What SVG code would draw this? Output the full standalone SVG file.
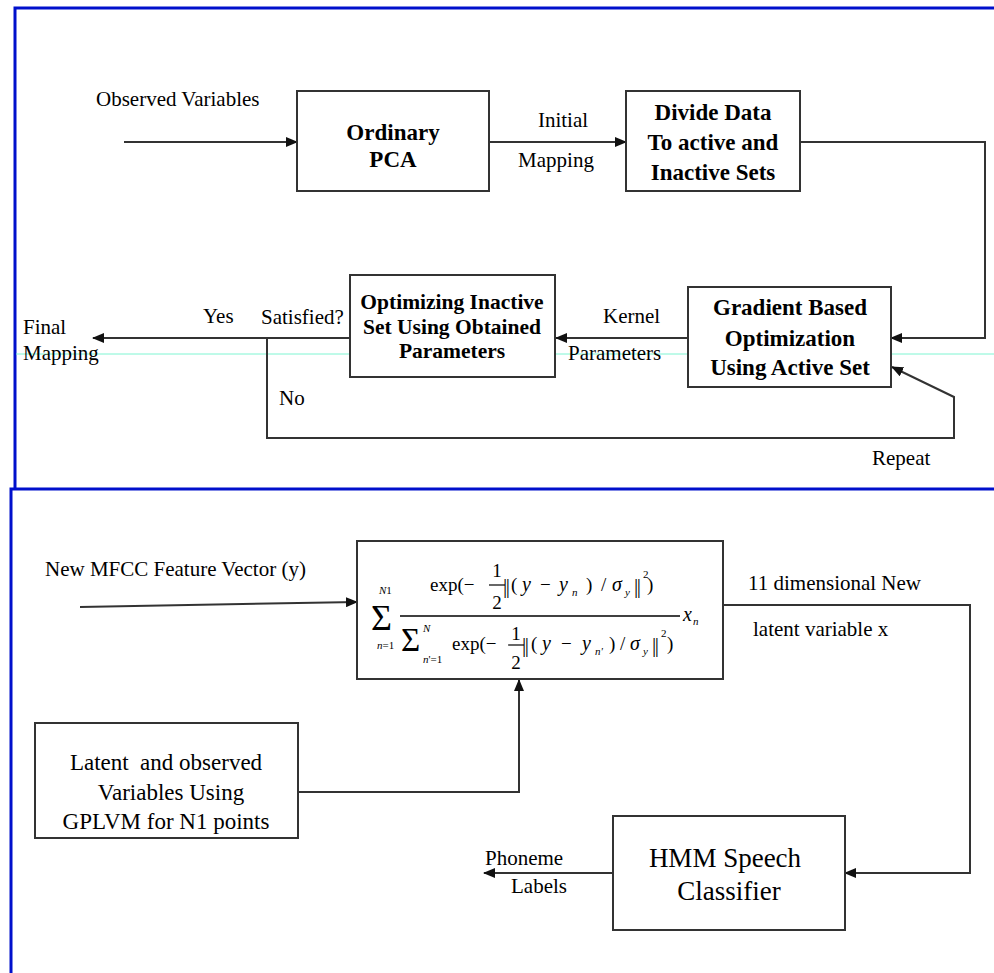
<svg xmlns="http://www.w3.org/2000/svg" width="994" height="973" viewBox="0 0 994 973" font-family="'Liberation Serif', 'Times New Roman', serif">
<style>
text{font-family:"Liberation Serif","Times New Roman",serif;fill:#000}
.lb{font-size:21px}
.bd{font-size:23px;font-weight:bold}
.bs{font-size:21.5px;font-weight:bold}
.hm{font-size:27px}
.lt{font-size:23px}
.f{font-size:19px}
.fi{font-size:20px;font-style:italic}
.fs{font-size:11px;font-style:italic}
.nb{font-size:21px;letter-spacing:-1.5px}
.box{fill:#fff;stroke:#333;stroke-width:2}
.ar{fill:none;stroke:#333;stroke-width:2;marker-end:url(#ah)}
.fr{fill:none;stroke:#0010cc;stroke-width:3}
.c{text-anchor:middle}
</style>
<defs>
<marker id="ah" markerUnits="userSpaceOnUse" markerWidth="12" markerHeight="10" refX="11" refY="5" orient="auto">
<path d="M0,0 L12,5 L0,10 z" fill="#111"/>
</marker>
</defs>
<rect width="994" height="973" fill="#fff"/>
<g id="frames">
<polyline class="fr" points="15,489 15,8 994,8"/>
<polyline class="fr" points="11,973 11,489 994,489"/>
<line x1="16" y1="354" x2="994" y2="354" stroke="#7ff5d2" stroke-width="1"/>
</g>
<g id="connectors">
<line class="ar" x1="124" y1="142" x2="297" y2="142"/>
<line class="ar" x1="489" y1="142" x2="626" y2="142"/>
<polyline class="ar" points="800,142 985,142 985,338 891,338"/>
<line class="ar" x1="688" y1="338" x2="556" y2="338"/>
<line class="ar" x1="349" y1="338" x2="93" y2="338"/>
<polyline class="ar" points="267,338 267,438 954,438 954,397 892,367"/>
<line class="ar" x1="80" y1="607" x2="357" y2="602"/>
<polyline class="ar" points="723,605 970,605 970,873 845,873"/>
<line class="ar" x1="613" y1="873" x2="484" y2="873"/>
<polyline class="ar" points="298,792 519,792 519,680"/>
</g>
<g id="labels">
<text class="lb" x="96" y="106">Observed Variables</text>
<text class="lb c" x="563" y="127">Initial</text>
<text class="lb c" x="556" y="167">Mapping</text>
<text class="lb" x="603" y="323">Kernel</text>
<text class="lb" x="568" y="360">Parameters</text>
<text class="lb" x="203" y="323">Yes</text>
<text class="lb" x="261" y="324">Satisfied?</text>
<text class="lb" x="23" y="334">Final</text>
<text class="lb" x="23" y="360">Mapping</text>
<text class="lb" x="279" y="405">No</text>
<text class="lb" x="872" y="465">Repeat</text>
<text class="lb" x="45" y="576">New MFCC Feature Vector (y)</text>
<text class="lb" x="748" y="590">11 dimensional New</text>
<text class="lb" x="753" y="636">latent variable x</text>
<text class="lb" x="485" y="865">Phoneme</text>
<text class="lb" x="511" y="893">Labels</text>
</g>
<g id="pca">
<rect class="box" x="297" y="91" width="192" height="100"/>
<text class="bd c" x="393" y="140">Ordinary</text>
<text class="bd c" x="393" y="167">PCA</text>
</g>
<g id="divide">
<rect class="box" x="626" y="91" width="174" height="100"/>
<text class="bd c" x="713" y="120">Divide Data</text>
<text class="bd c" x="713" y="150">To active and</text>
<text class="bd c" x="713" y="180">Inactive Sets</text>
</g>
<g id="gradient">
<rect class="box" x="688" y="287" width="203" height="100"/>
<text class="bd c" x="790" y="315">Gradient Based</text>
<text class="bd c" x="790" y="346">Optimization</text>
<text class="bd c" x="790" y="375">Using Active Set</text>
</g>
<g id="optimizing">
<rect class="box" x="350" y="275" width="205" height="102"/>
<text class="bs c" x="452" y="309">Optimizing Inactive</text>
<text class="bs c" x="452" y="334">Set Using Obtained</text>
<text class="bs c" x="452" y="358">Parameters</text>
</g>
<g id="formula">
<rect class="box" x="357" y="541" width="366" height="138"/>
<text x="371" y="630" style="font-size:36px">Σ</text>
<text class="fs" x="379" y="594">N<tspan style="font-style:normal">1</tspan></text>
<text class="fs" x="377" y="649">n<tspan style="font-style:normal">=1</tspan></text>
<line x1="400" y1="616" x2="680" y2="616" stroke="#000" stroke-width="1.3"/>
<text class="fi" x="683" y="621">x</text>
<text class="fs" x="693" y="625">n</text>
<text class="f" x="430" y="591">exp(−</text>
<text class="f c" x="497" y="577">1</text>
<line x1="489" y1="585" x2="505" y2="585" stroke="#000" stroke-width="1.2"/>
<text class="f c" x="497" y="609">2</text>
<text class="nb" x="503" y="593">||</text>
<text class="f" x="511" y="591">(</text>
<text class="fi" x="522" y="591">y</text>
<text class="f" x="540" y="591">−</text>
<text class="fi" x="559" y="591">y</text>
<text class="fs" x="572" y="596">n</text>
<text class="f" x="586" y="591">)</text>
<text class="f" x="601" y="591">/</text>
<text class="fi" x="612" y="591">σ</text>
<text class="fs" x="625" y="596">y</text>
<text class="nb" x="634" y="593">||</text>
<text class="f" x="643" y="578" style="font-size:11px">2</text>
<text class="f" x="647" y="591">)</text>
<text x="401" y="651" style="font-size:33px">Σ</text>
<text class="fs" x="423" y="632">N</text>
<text class="fs" x="423" y="663">n<tspan style="font-style:normal">'=1</tspan></text>
<text class="f" x="452" y="650">exp(−</text>
<text class="f c" x="516" y="640">1</text>
<line x1="508" y1="645" x2="524" y2="645" stroke="#000" stroke-width="1.2"/>
<text class="f c" x="516" y="669">2</text>
<text class="nb" x="522" y="652">||</text>
<text class="f" x="531" y="650">(</text>
<text class="fi" x="542" y="650">y</text>
<text class="f" x="561" y="650">−</text>
<text class="fi" x="582" y="650">y</text>
<text class="fs" x="595" y="655">n'</text>
<text class="f" x="609" y="650">)</text>
<text class="f" x="620" y="650">/</text>
<text class="fi" x="630" y="650">σ</text>
<text class="fs" x="643" y="655">y</text>
<text class="nb" x="652" y="652">||</text>
<text class="f" x="661" y="637" style="font-size:11px">2</text>
<text class="f" x="667" y="650">)</text>
</g>
<g id="latent">
<rect class="box" x="35" y="723" width="263" height="115"/>
<text class="lt c" x="166" y="770" style="white-space:pre">Latent  and observed</text>
<text class="lt c" x="171" y="800">Variables Using</text>
<text class="lt c" x="166" y="829">GPLVM for N1 points</text>
</g>
<g id="hmm">
<rect class="box" x="613" y="816" width="232" height="114"/>
<text class="hm c" x="725" y="867">HMM Speech</text>
<text class="hm c" x="729" y="900">Classifier</text>
</g>
</svg>
